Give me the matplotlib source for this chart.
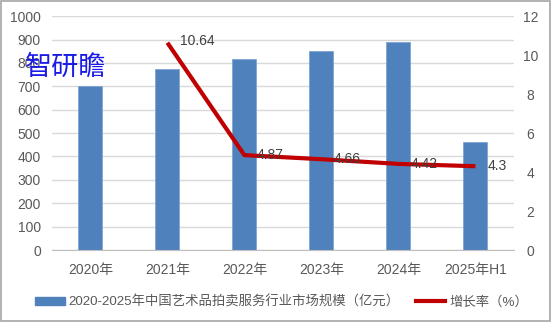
import matplotlib
matplotlib.use("Agg")
import matplotlib.pyplot as plt
from matplotlib.patches import Rectangle, Patch
from matplotlib.lines import Line2D

plt.rcParams['font.family'] = ['Liberation Sans', 'Noto Sans CJK SC']

years = ['2020年', '2021年', '2022年', '2023年', '2024年', '2025年H1']
scale = [700, 775, 815, 850, 890, 462]
growth_years = [1, 2, 3, 4, 5]
growth = [10.64, 4.87, 4.66, 4.42, 4.3]

bar_name = '2020-2025年中国艺术品拍卖服务行业市场规模（亿元）'
line_name = '增长率（%）'
tick_color = '#595959'

fig = plt.figure(figsize=(5.52, 3.22), dpi=100)
ax = fig.add_axes([0.094, 0.2236, 0.837, 0.726])
x = list(range(len(years)))
ax.bar(x, scale, width=0.31, color='#4F81BD', edgecolor='#7FA5D3',
       linewidth=0.6, zorder=2)
ax.set_xlim(-0.5, len(years) - 0.5)
ax.set_ylim(0, 1000)
ax.set_yticks(range(0, 1001, 100))
ax.yaxis.grid(True, color='#D9D9D9', linewidth=1.0, zorder=0)
ax.set_axisbelow(True)
for s in ['top', 'right', 'left']:
    ax.spines[s].set_visible(False)
ax.spines['bottom'].set_color('#BFBFBF')
ax.set_xticks(x)
ax.set_xticklabels(years)
ax.tick_params(axis='both', length=0, colors=tick_color, labelsize=10)
ax.tick_params(axis='x', pad=9)
ax.tick_params(axis='y', pad=8)

ax2 = ax.twinx()
ax2.plot(growth_years, growth, color='#C00000', linewidth=3,
         solid_capstyle='butt', zorder=3)
ax2.set_ylim(0, 12)
ax2.set_yticks(range(0, 13, 2))
for s in ax2.spines.values():
    s.set_visible(False)
ax2.tick_params(axis='y', length=0, colors=tick_color, labelsize=10, pad=12)
for lab in ax2.get_yticklabels():
    lab.set_horizontalalignment('center')
for xi, g in zip(growth_years, growth):
    ax2.annotate(f'{g:g}', (xi, g), xytext=(9, 1 if g > 10 else 0),
                 textcoords='offset points', ha='left', va='center',
                 fontsize=10, color='#404040', zorder=4)

# watermark
fig.text(0.046, 0.79, '智研瞻', fontsize=19.5, color='#1A1AE6',
         family=['Noto Sans CJK SC'], va='center', ha='left')

handles = [Patch(facecolor='#4F81BD', edgecolor='#4F81BD'),
           Line2D([0], [0], color='#C00000', linewidth=3)]
fig.legend(handles, [bar_name, line_name], loc='center',
           bbox_to_anchor=(0.51, 0.062), ncol=2, frameon=False,
           fontsize=9.6, handlelength=2.2, handleheight=0.6,
           handletextpad=0.3, columnspacing=1.2, labelcolor=tick_color)

fig.patches.append(Rectangle((0.002, 0.003), 0.995, 0.993,
                             transform=fig.transFigure, fill=False,
                             edgecolor='#A6A6A6', linewidth=1.2))

fig.savefig('out.png', dpi=100)
